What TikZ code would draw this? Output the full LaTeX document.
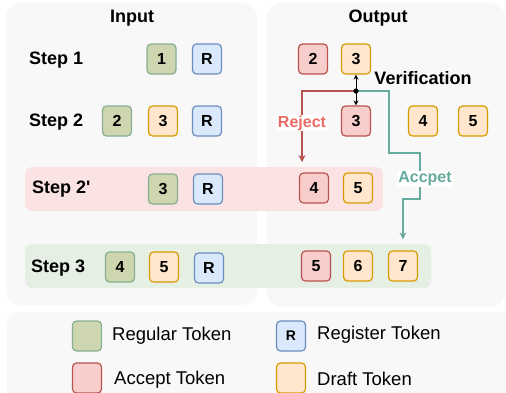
\documentclass[tikz,border=0pt]{standalone}
\usepackage{fontspec}
\setmainfont{Liberation Sans}
\usetikzlibrary{arrows.meta,calc}

\definecolor{panelgray}{HTML}{F8F8F8}
\definecolor{regfill}{HTML}{CDD6AE}
\definecolor{regdraw}{HTML}{88AF93}
\definecolor{rfill}{HTML}{DAE8FC}
\definecolor{rdraw}{HTML}{6C8EBF}
\definecolor{accfill}{HTML}{F8CECC}
\definecolor{accdraw}{HTML}{B85450}
\definecolor{dftfill}{HTML}{FFE6CC}
\definecolor{dftdraw}{HTML}{D79B00}
\definecolor{rejtext}{HTML}{EA6B66}
\definecolor{acctext}{HTML}{67AB9F}
\definecolor{pinkband}{HTML}{FCE3E3}
\definecolor{greenband}{HTML}{E6EFE4}

\begin{document}
\begin{tikzpicture}[x=1pt,y=-1pt,
  tok/.style={draw, line width=1.2pt, rounded corners=4pt,
    minimum width=29pt, minimum height=30pt, inner sep=0pt,
    font=\fontsize{16}{16}\selectfont\bfseries},
  regtok/.style={tok, fill=regfill, draw=regdraw},
  regstok/.style={tok, fill=rfill, draw=rdraw},
  acctok/.style={tok, fill=accfill, draw=accdraw},
  dfttok/.style={tok, fill=dftfill, draw=dftdraw},
  steplabel/.style={anchor=west, inner sep=0pt, font=\fontsize{18}{18}\selectfont\bfseries},
  title/.style={inner sep=0pt, font=\fontsize{18}{18}\selectfont\bfseries},
  legtext/.style={anchor=west, inner sep=0pt, font=\fontsize{18.5}{18.5}\selectfont},
  flowlabel/.style={fill=white, inner sep=1pt, font=\fontsize{16}{16}\selectfont\bfseries},
  flowtip/.style={-{Stealth[length=7pt,width=7pt]}}
]
\useasboundingbox (0,0) rectangle (506,392);

% panels
\fill[panelgray, rounded corners=15pt] (6,3) rectangle (257,305);
\fill[panelgray, rounded corners=15pt] (267,3) rectangle (505,307);
\fill[panelgray, rounded corners=12pt] (7,312) rectangle (530,420);

% highlighted rows
\fill[pinkband, rounded corners=7pt] (25,167) rectangle (383,211);
\fill[greenband, rounded corners=7pt] (25,244) rectangle (431,288);

% titles
\node[title] (tin) at (132,18) {Input};
\node[title] (tout) at (378,18) {Output};

% step labels
\node[steplabel] (s1) at (29,60) {Step 1};
\node[steplabel] (s2) at (29,122) {Step 2};
\node[steplabel] (s2p) at (32,189) {Step 2\textquotesingle};
\node[steplabel] (s3) at (31,268) {Step 3};

% input tokens
\node[regtok] (i1a) at (161.5,59) {1};
\node[regstok] (i1r) at (207,59) {R};
\node[regtok] (i2a) at (117,121) {2};
\node[dfttok] (i2b) at (163,121) {3};
\node[regstok] (i2r) at (207,121) {R};
\node[regtok] (i2pa) at (163,189) {3};
\node[regstok] (i2pr) at (208,189) {R};
\node[regtok] (i3a) at (120,267) {4};
\node[dfttok] (i3b) at (164,267) {5};
\node[regstok] (i3r) at (209,268) {R};

% output tokens
\node[acctok] (o1a) at (313,59) {2};
\node[dfttok] (o1b) at (356,59) {3};
\node[acctok] (o2a) at (356,121) {3};
\node[dfttok] (o2b) at (423,121) {4};
\node[dfttok] (o2c) at (473,121) {5};
\node[acctok] (o2pa) at (314,188) {4};
\node[dfttok] (o2pb) at (358,188) {5};
\node[acctok] (o3a) at (316,266) {5};
\node[dfttok] (o3b) at (358,266) {6};
\node[dfttok] (o3c) at (403,266) {7};

% verification
\node[title, anchor=center] (ver) at (423,78) {Verification};
\coordinate (vdot) at (356,91);
\draw[line width=1pt, {Stealth[length=5pt,width=5pt]}-{Stealth[length=5pt,width=5pt]}] (o1b.south) -- (o2a.north);

% reject path
\coordinate (rejend) at (302,162);
\draw[accdraw, line width=1.2pt, flowtip] (vdot) -| (rejend);
\node[flowlabel, text=rejtext] (rej) at (302,123) {Reject};

% accept path
\coordinate (acc1) at (389,153);
\coordinate (acc2) at (420,199);
\coordinate (accend) at ($(o3c.north)+(0,-11)$);
\draw[acctext, line width=1.2pt, flowtip] (vdot) -| (acc1) -| (acc2) -| (accend);
\node[flowlabel, text=acctext] (acc) at (425,179) {Accpet};

\fill (vdot) circle (2.6pt);

% legend
\node[regtok] (lg1) at (87,336) {};
\node[legtext] (lt1) at (112,336) {Regular Token};
\node[regstok, font=\fontsize{14}{14}\selectfont\bfseries] (lg2) at (291,336) {R};
\node[legtext] (lt2) at (317,335) {Register Token};
\node[acctok] (lg3) at (87,378) {};
\node[legtext] (lt3) at (114,380) {Accept Token};
\node[dfttok] (lg4) at (291,378) {};
\node[legtext] (lt4) at (317,379) {Draft Token};
\end{tikzpicture}
\end{document}
